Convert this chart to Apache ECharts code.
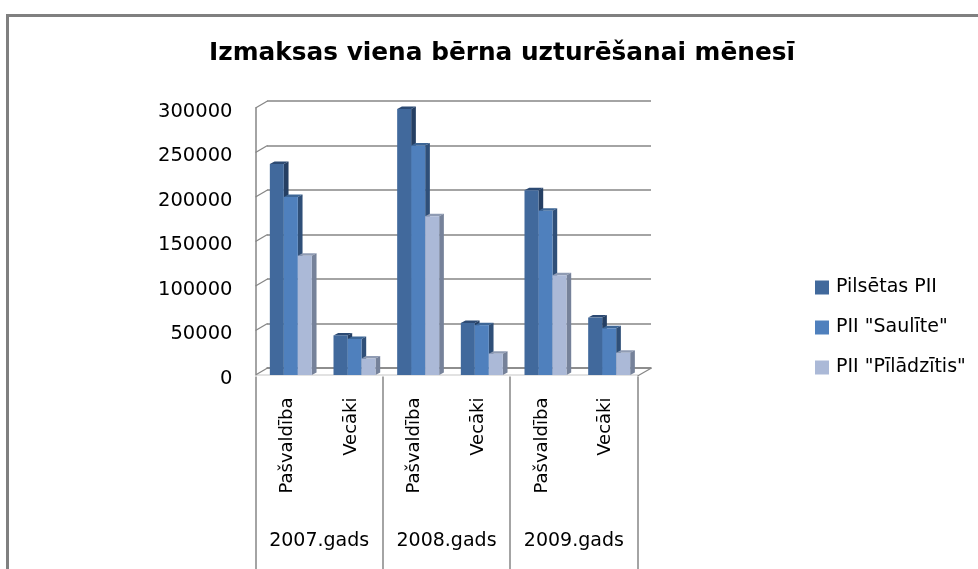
<!DOCTYPE html>
<html>
<head>
<meta charset="utf-8">
<style>html,body{margin:0;padding:0;background:#fff}#c{width:978px;height:569px}</style>
<script src="https://cdn.jsdelivr.net/npm/echarts@6/dist/echarts.min.js"></script>
</head>
<body>
<div id="c"></div>
<script>
const titleText = 'Izmaksas viena bērna uzturēšanai mēnesī';
const categories = ['Pašvaldība', 'Vecāki', 'Pašvaldība', 'Vecāki', 'Pašvaldība', 'Vecāki'];
const years = ['2007.gads', '2008.gads', '2009.gads'];
const seriesNames = ['Pilsētas PII', 'PII "Saulīte"', 'PII "Pīlādzītis"'];
const pilsetas = [237000, 44500, 299000, 58500, 207500, 64500];
const saulite = [200000, 40500, 258000, 56000, 184500, 52500];
const piladzitis = [134000, 18500, 178500, 24000, 112000, 25000];
const valueTicks = [0, 50000, 100000, 150000, 200000, 250000, 300000];

const allValues = [pilsetas, saulite, piladzitis];
const frontColors = ['#41699c', '#4f80bd', '#abb9d7'];
const sideColors = ['#253f63', '#2f4f78', '#76829a'];
const topColors = ['#2c4a73', '#3d6696', '#8f9bb3'];
const DX = 4.7, DY = 2.5, BAR_W = 14;
const font = 'DejaVu Sans';
const gray = '#868686';

const chart = echarts.init(document.getElementById('c'), null, {renderer: 'canvas'});

function depthRender(si) {
  return function (params, api) {
    const p = api.coord([api.value(0), api.value(1)]);
    const base = api.coord([api.value(0), 0]);
    const left = p[0] - 1.5 * BAR_W + si * BAR_W;
    const right = left + BAR_W;
    const top = p[1], bot = base[1];
    return {
      type: 'group',
      children: [
        {type: 'polygon', shape: {points: [[left, top], [left + DX, top - DY], [right + DX, top - DY], [right, top]]},
          style: {fill: topColors[si]}},
        {type: 'polygon', shape: {points: [[right, top], [right + DX, top - DY], [right + DX, bot - DY], [right, bot]]},
          style: {fill: sideColors[si]}}
      ]
    };
  };
}

const barSeries = allValues.map((vals, si) => ({
  type: 'bar', name: seriesNames[si], xAxisIndex: 3, yAxisIndex: 2,
  data: vals, barWidth: BAR_W, barGap: 0, z: 6, silent: true,
  itemStyle: {color: frontColors[si]}
}));
const depthSeries = allValues.map((vals, si) => ({
  type: 'custom', xAxisIndex: 3, yAxisIndex: 2, z: 4, silent: true,
  renderItem: depthRender(si),
  data: vals.map((v, i) => [i, v])
}));
const wallTicks = {
  type: 'custom', xAxisIndex: 0, yAxisIndex: 0, z: 2, silent: true,
  renderItem: function (params, api) {
    const y = api.coord([0, api.value(1)])[1];
    const x0 = params.coordSys.x, x1 = x0 + params.coordSys.width;
    const kids = [{type: 'line', shape: {x1: x0, y1: y, x2: x0 + 12, y2: y - 7}, style: {stroke: gray, lineWidth: 1.3}}];
    if (api.value(1) === 0) kids.push({type: 'line', shape: {x1: x1, y1: y + 1, x2: x1 + 14, y2: y - 7}, style: {stroke: gray, lineWidth: 1.3}});
    return {type: 'group', children: kids};
  },
  data: valueTicks.map(v => [0, v])
};

chart.setOption({
  animation: false,
  backgroundColor: '#fff',
  title: {
    text: titleText, left: 497, top: 36, textAlign: 'center',
    textStyle: {fontFamily: font, fontWeight: 'bold', fontSize: 24.8, color: '#000'}
  },
  legend: {
    data: seriesNames, orient: 'vertical', left: 810, top: 273,
    itemWidth: 14, itemHeight: 14, itemGap: 21, icon: 'rect', selectedMode: false,
    textStyle: {fontFamily: font, fontSize: 19, color: '#000', padding: [0, 0, 0, 2]}
  },
  graphic: [{type: 'rect', silent: true, z: 100,
    shape: {x: 7.5, y: 15.5, width: 1100, height: 800},
    style: {fill: 'none', stroke: '#808080', lineWidth: 3}}],
  grid: [
    {left: 255.5, top: 108, width: 382, height: 267},
    {left: 267, top: 101, width: 384, height: 267},
    {left: 259, top: 108, width: 382, height: 267}
  ],
  xAxis: [
    {gridIndex: 0, type: 'category', data: categories, position: 'bottom', offset: 1.5,
      axisLine: {show: true, lineStyle: {color: '#d9d9d9', width: 1.5}}, axisTick: {show: false},
      axisLabel: {interval: 0, rotate: 90, margin: 21, fontFamily: font, fontSize: 18, color: '#000'}},
    {gridIndex: 0, type: 'category', data: years, position: 'bottom', offset: 1.5,
      axisLine: {show: false},
      axisTick: {show: true, length: 195, lineStyle: {color: gray, width: 1.5}},
      axisLabel: {interval: 0, margin: 155, fontFamily: font, fontSize: 19, color: '#000'}},
    {gridIndex: 1, type: 'category', data: categories, axisLine: {show: true, lineStyle: {color: gray, width: 1.5}}, axisTick: {show: false}, axisLabel: {show: false}},
    {gridIndex: 2, type: 'category', data: categories, axisLine: {show: false}, axisTick: {show: false}, axisLabel: {show: false}}
  ],
  yAxis: [
    {gridIndex: 0, type: 'value', min: 0, max: 300000, interval: 50000,
      axisLine: {show: true, lineStyle: {color: gray, width: 1.5}}, axisTick: {show: false}, splitLine: {show: false},
      axisLabel: {margin: 23, fontFamily: font, fontSize: 19.5, color: '#000', verticalAlign: 'top', lineHeight: 7, formatter: v => String(v)}},
    {gridIndex: 1, type: 'value', min: 0, max: 300000, interval: 50000,
      axisLine: {show: false}, axisTick: {show: false}, axisLabel: {show: false},
      splitLine: {show: true, lineStyle: {color: gray, width: 1.5}}},
    {gridIndex: 2, type: 'value', min: 0, max: 300000, interval: 50000,
      axisLine: {show: false}, axisTick: {show: false}, axisLabel: {show: false}, splitLine: {show: false}}
  ],
  series: [wallTicks].concat(depthSeries, barSeries)
});
</script>
</body>
</html>
